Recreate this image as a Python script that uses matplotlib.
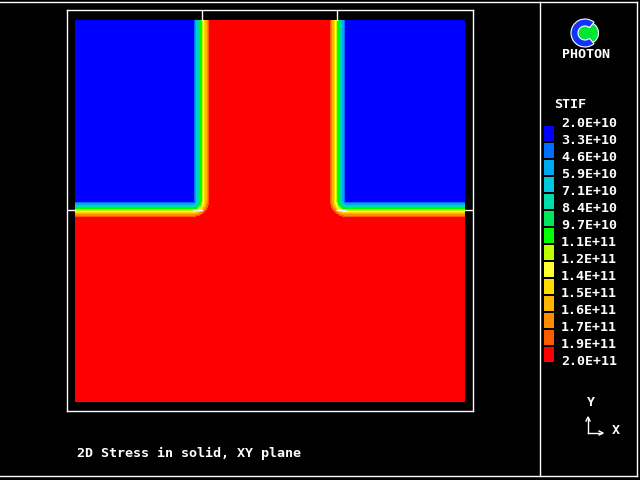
import numpy as np
import matplotlib
matplotlib.use("Agg")
import matplotlib.pyplot as plt
from matplotlib.lines import Line2D
from matplotlib.patches import Wedge, Circle
from matplotlib.transforms import ScaledTranslation, blended_transform_factory

# ---------------- data ----------------
E_soft = 2.0e10          # stiffness of the two upper corner blocks
E_stiff = 2.0e11         # stiffness of the T-shaped region
x_edges = [0.0, 0.977, 2.015, 3.0]   # mesh region boundaries in x
y_edges = [0.0, 1.508, 3.0]          # mesh region boundaries in y
blend_half = 0.068                    # nodal-averaging transition half width
level_labels = ["2.0E+10", "3.3E+10", "4.6E+10", "5.9E+10", "7.1E+10",
                "8.4E+10", "9.7E+10", "1.1E+11", "1.2E+11", "1.4E+11",
                "1.5E+11", "1.6E+11", "1.7E+11", "1.9E+11", "2.0E+11"]
level_colors = ["#0000ff", "#006eff", "#00a8f0", "#00c8dc", "#00dcaa",
                "#00e65a", "#00ff00", "#beff00", "#ffff32", "#ffdc00",
                "#ffb400", "#ff8c00", "#ff5a00", "#ff0000"]
title_text = "2D Stress in solid, XY plane"
var_name = "STIF"
logo_text = "PHOTON"

W, H = 640, 480
def fx(x): return x / W
def fy(y): return 1 - y / H

FONT = dict(family="DejaVu Sans Mono", weight="bold", color="white", fontsize=9.6)

fig = plt.figure(figsize=(6.4, 4.8), dpi=100, facecolor="black")

# ---------------- main contour axes ----------------
ax = fig.add_axes([fx(67), fy(411), (473 - 67) / W, (411 - 10) / H])
ax.set_facecolor("black")
x0, x1, x2, x3 = x_edges
y0, yi, y3 = y_edges
ax.set_xlim(x0 - 8 / 130, x3 + 8 / 130)
ax.set_ylim(y0 - 9 / 127.33, y3 + 10 / 127.33)

xs = np.linspace(x0, x3, 900)
ys = np.linspace(y0, y3, 900)
X, Y = np.meshgrid(xs, ys)
def rect_dist(X, Y, xa, xb, ya, yb):
    dx = np.maximum(np.maximum(xa - X, X - xb), 0)
    dy = np.maximum(np.maximum(ya - Y, Y - yb), 0)
    return np.hypot(dx, dy)
d1 = rect_dist(X, Y, -10, x1 - blend_half, yi + blend_half, 10)
d2 = rect_dist(X, Y, x2 + blend_half, 10, yi + blend_half, 10)
d = np.minimum(d1, d2)
frac = np.clip(d / (2 * blend_half), 0, 1)
Z = E_soft + (E_stiff - E_soft) * frac
levels = np.linspace(E_soft, E_stiff, len(level_labels))
levels[0] -= 1e8
levels[-1] += 1e8
ax.contourf(X, Y, Z, levels=levels, colors=level_colors, antialiased=False)

# mesh region boundary lines (visible only outside the field)
ylo, yhi = ax.get_ylim()
xlo, xhi = ax.get_xlim()
for xv in (x1, x2):
    ax.plot([xv, xv], [y3, yhi], color="white", lw=1)
ax.plot([xlo, x0], [yi, yi], color="white", lw=1)
ax.plot([x3, xhi], [yi, yi], color="white", lw=1)
ax.plot([x1 - 0.07, x1], [yi, yi], color="white", lw=1)
ax.plot([x2, x2 + 0.07], [yi, yi], color="white", lw=1)

ax.set_xticks([]); ax.set_yticks([])
for s in ax.spines.values():
    s.set_color("white"); s.set_linewidth(1)

# ---------------- legend boxes ----------------
n = len(level_colors)
cax = fig.add_axes([fx(544), fy(363), 10 / W, (363 - 125) / H])
cax.set_facecolor("black")
cax.barh(np.arange(n) + 0.5, [1] * n, height=0.94, color=level_colors, left=0)
cax.set_xlim(0, 1); cax.set_ylim(n, 0)
cax.axis("off")
off = ScaledTranslation(0, 1.5 / 100, fig.dpi_scale_trans)
tr = blended_transform_factory(cax.transAxes, cax.transData) + off
for k, lab in enumerate(level_labels):
    cax.text(1.7, k, lab, ha="left", va="center", transform=tr, **FONT)

# ---------------- texts ----------------
fig.text(fx(554), fy(104), var_name, ha="left", va="center", **FONT)
fig.text(fx(586), fy(55), logo_text, ha="center", va="center", **FONT)
fig.text(fx(77), fy(453), title_text, ha="left", va="center", **FONT)

# ---------------- logo ----------------
lax = fig.add_axes([fx(569), fy(49), 32 / W, 32 / H])
lax.set_xlim(-16, 16); lax.set_ylim(-16, 16); lax.axis("off")
lax.add_patch(Circle((2.5, 0), 11, facecolor="#00e632", edgecolor="white", lw=0.8))
lax.add_patch(Wedge((0, 0), 14, 50, 310, width=7, facecolor="#1432ff", edgecolor="white", lw=0.8))

# ---------------- axis triad ----------------
fig.add_artist(Line2D([fx(588), fx(588)], [fy(433), fy(418)], color="white", lw=1))
fig.add_artist(Line2D([fx(588), fx(602)], [fy(433), fy(433)], color="white", lw=1))
fig.add_artist(Line2D([fx(586), fx(588), fx(590)], [fy(421), fy(417), fy(421)], color="white", lw=1))
fig.add_artist(Line2D([fx(599), fx(603), fx(599)], [fy(431), fy(433), fy(435)], color="white", lw=1))
fig.text(fx(590), fy(403), "Y", ha="center", va="center", **FONT)
fig.text(fx(616), fy(430), "X", ha="center", va="center", **FONT)

# ---------------- panel borders ----------------
fig.add_artist(Line2D([0, fx(637)], [fy(2), fy(2)], color="white", lw=1))
fig.add_artist(Line2D([0, fx(637)], [fy(476), fy(476)], color="white", lw=1))
fig.add_artist(Line2D([fx(637), fx(637)], [fy(2), fy(476)], color="white", lw=1))
fig.add_artist(Line2D([fx(540), fx(540)], [fy(2), fy(476)], color="white", lw=1))

fig.savefig("out.png", dpi=100, facecolor="black")
